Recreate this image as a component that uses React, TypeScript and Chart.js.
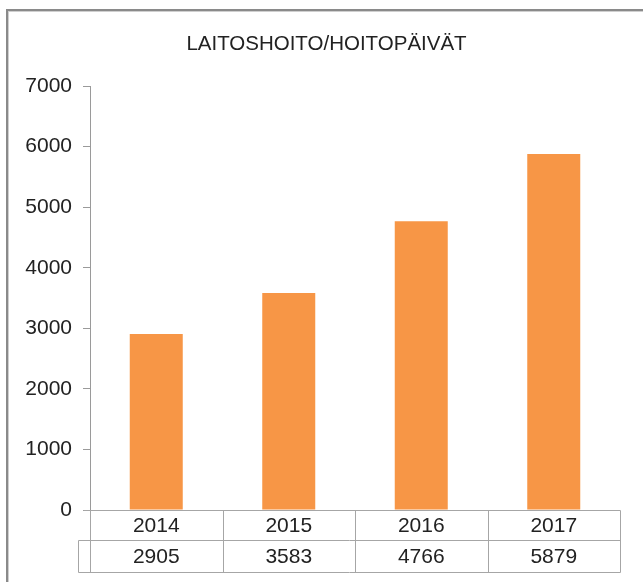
import React, { useEffect, useRef } from "react";
import { Chart, registerables } from "chart.js";

Chart.register(...registerables);

const title = "LAITOSHOITO/HOITOPÄIVÄT";
const categories = ["2014", "2015", "2016", "2017"];
const values = [2905, 3583, 4766, 5879];
const yTicks = [0, 1000, 2000, 3000, 4000, 5000, 6000, 7000];

const FONT = "'Liberation Sans', Arial, sans-serif";
const TEXT = "#222222";
const LINE = "#a6a6a6";

const tablePlugin = {
  id: "dataTableAndFrame",
  afterDraw(chart: any) {
    const ctx = chart.ctx as CanvasRenderingContext2D;
    const xs = chart.scales.x;
    const ys = chart.scales.y;
    const area = chart.chartArea;
    const n = categories.length;
    const step = xs.getPixelForValue(1) - xs.getPixelForValue(0);
    const left = xs.getPixelForValue(0) - step / 2;
    const y0 = Math.round(ys.getPixelForValue(0)) + 0.5;
    const row1 = y0 + 30;
    const row2 = row1 + 32;
    const keyLeft = area.left - 12;
    const px = (v: number) => Math.round(v) + 0.5;

    ctx.save();
    ctx.strokeStyle = LINE;
    ctx.lineWidth = 1;
    ctx.beginPath();
    ctx.moveTo(px(area.left - 7), y0);
    ctx.lineTo(px(area.right), y0);
    ctx.moveTo(px(keyLeft), row1);
    ctx.lineTo(px(area.right), row1);
    ctx.moveTo(px(keyLeft), row2);
    ctx.lineTo(px(area.right), row2);
    for (let i = 0; i <= n; i++) {
      const x = px(left + i * step);
      ctx.moveTo(x, y0);
      ctx.lineTo(x, row2);
    }
    ctx.moveTo(px(keyLeft), row1);
    ctx.lineTo(px(keyLeft), row2);
    ctx.stroke();

    ctx.fillStyle = TEXT;
    ctx.font = `21px ${FONT}`;
    ctx.textAlign = "center";
    ctx.textBaseline = "middle";
    for (let i = 0; i < n; i++) {
      const cx = xs.getPixelForValue(i);
      ctx.fillText(categories[i], cx, (y0 + row1) / 2 + 1);
      ctx.fillText(String(values[i]), cx, (row1 + row2) / 2 + 1);
    }

    // chart title
    ctx.font = `20.5px ${FONT}`;
    ctx.fillText(title, 326.5, 44.5);

    // outer chart frame (top and left edges visible)
    ctx.fillStyle = "#8a8a8a";
    ctx.fillRect(6, 9, chart.width - 6, 2);
    ctx.fillRect(6, 9, 2, chart.height - 9);
    ctx.fillStyle = "#cfcfcf";
    ctx.fillRect(8, 11, chart.width - 8, 1);
    ctx.fillRect(8, 11, 1, chart.height - 11);
    ctx.restore();
  },
};

export default function App() {
  const ref = useRef<HTMLCanvasElement | null>(null);

  useEffect(() => {
    if (!ref.current) return;
    const chart = new Chart(ref.current, {
      type: "bar",
      data: {
        labels: categories,
        datasets: [
          {
            label: title,
            data: values,
            backgroundColor: "#F79646",
            borderWidth: 0,
            categoryPercentage: 1,
            barPercentage: 0.4,
          },
        ],
      },
      options: {
        responsive: false,
        animation: false,
        devicePixelRatio: 1,
        layout: { padding: { left: 0, right: 23, top: 86, bottom: 72 } },
        plugins: {
          legend: { display: false },
          tooltip: { enabled: false },
          title: { display: false },
        },
        scales: {
          x: { display: false, offset: true },
          y: {
            min: 0,
            max: 7000,
            afterBuildTicks: (scale: any) => {
              scale.ticks = yTicks.map((v) => ({ value: v }));
            },
            afterFit: (scale: any) => {
              scale.width = 90;
            },
            ticks: {
              color: TEXT,
              padding: 11,
              font: { family: FONT, size: 21 },
              callback: (v: any) => String(v),
            },
            grid: {
              drawOnChartArea: false,
              drawTicks: true,
              tickLength: 7,
              color: "#9a9a9a",
            },
            border: { display: true, color: "#9a9a9a", width: 1 },
          },
        },
      },
      plugins: [tablePlugin],
    });
    return () => chart.destroy();
  }, []);

  return (
    <div style={{ position: "absolute", left: 0, top: 0, width: 643, height: 582, background: "#fff" }}>
      <canvas ref={ref} width={643} height={582} style={{ display: "block" }} />
    </div>
  );
}
